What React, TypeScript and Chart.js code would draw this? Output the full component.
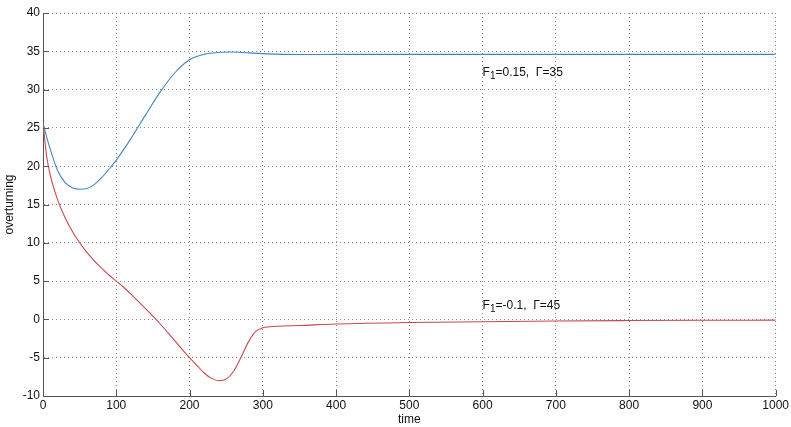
import React, { useEffect, useRef } from "react";
import { Chart, registerables } from "chart.js";

Chart.register(...registerables);

const timeA = [0, 5, 10, 20, 30, 40, 50, 60, 70, 80, 90, 100, 120, 140, 160, 180, 200, 220, 240, 260, 280, 300, 350, 400, 500, 600, 700, 800, 900, 1000];
const upper = [25.7, 23.8, 22.2, 19.4, 17.9, 17.2, 17.0, 17.1, 17.6, 18.5, 19.6, 20.8, 23.6, 26.7, 29.7, 32.2, 33.9, 34.6, 34.85, 34.9, 34.8, 34.7, 34.58, 34.6, 34.6, 34.6, 34.6, 34.6, 34.6, 34.6];

const timeB = [0, 5, 10, 20, 30, 40, 50, 60, 70, 80, 90, 100, 110, 120, 140, 160, 180, 200, 210, 220, 230, 240, 250, 260, 270, 280, 290, 300, 320, 350, 400, 500, 600, 700, 800, 900, 1000];
const lower = [25.7, 21.3, 18.8, 15.6, 13.3, 11.5, 10.0, 8.75, 7.65, 6.7, 5.8, 5.0, 4.2, 3.3, 1.4, -0.6, -2.8, -5.0, -6.0, -7.0, -7.7, -8.0, -7.8, -6.8, -5.0, -3.0, -1.6, -1.1, -0.9, -0.8, -0.6, -0.4, -0.3, -0.2, -0.15, -0.12, -0.1];

const labels = [
  { sub: "1", pre: "F", post: "=0.15,  \u0393=35", x: 600, y: 32.2 },
  { sub: "1", pre: "F", post: "=-0.1,  \u0393=45", x: 600, y: 1.8 },
];

const FONT = "'Liberation Sans', Arial, Helvetica, sans-serif";

const annotate = {
  id: "annotate",
  afterDatasetsDraw(chart: any) {
    const { ctx, scales } = chart;
    ctx.save();
    ctx.fillStyle = "#111";
    ctx.textBaseline = "middle";
    ctx.textAlign = "left";
    for (const l of labels) {
      let px = scales.x.getPixelForValue(l.x);
      const py = scales.y.getPixelForValue(l.y);
      ctx.font = `12px ${FONT}`;
      ctx.fillText(l.pre, px, py);
      px += ctx.measureText(l.pre).width;
      ctx.font = `10px ${FONT}`;
      ctx.fillText(l.sub, px, py + 4);
      px += ctx.measureText(l.sub).width;
      ctx.font = `12px ${FONT}`;
      ctx.fillText(l.post, px, py);
    }
    ctx.restore();
  },
};

const innerTicks = {
  id: "innerTicks",
  afterDraw(chart: any) {
    const { ctx, scales, chartArea } = chart;
    ctx.save();
    ctx.strokeStyle = "#555";
    ctx.lineWidth = 1;
    ctx.setLineDash([]);
    ctx.beginPath();
    for (const t of scales.x.ticks) {
      const x = Math.round(scales.x.getPixelForValue(t.value)) + 0.5;
      ctx.moveTo(x, chartArea.bottom);
      ctx.lineTo(x, chartArea.bottom - 6);
    }
    for (const t of scales.y.ticks) {
      const y = Math.round(scales.y.getPixelForValue(t.value)) + 0.5;
      ctx.moveTo(chartArea.left, y);
      ctx.lineTo(chartArea.left + 6, y);
    }
    ctx.stroke();
    ctx.restore();
  },
};

export default function App() {
  const ref = useRef<HTMLCanvasElement>(null);
  useEffect(() => {
    if (!ref.current) return;
    const chart = new Chart(ref.current, {
      type: "line",
      data: {
        datasets: [
          {
            data: timeA.map((t, i) => ({ x: t, y: upper[i] })),
            borderColor: "#3f86c4",
            borderWidth: 1.1,
            pointRadius: 0,
            cubicInterpolationMode: "monotone",
          },
          {
            data: timeB.map((t, i) => ({ x: t, y: lower[i] })),
            borderColor: "#c8474b",
            borderWidth: 1.1,
            pointRadius: 0,
            cubicInterpolationMode: "monotone",
          },
        ],
      },
      options: {
        animation: false,
        responsive: false,
        maintainAspectRatio: false,
        layout: { padding: { top: 13, right: 15, left: 0, bottom: 0 } },
        plugins: { legend: { display: false }, tooltip: { enabled: false } },
        scales: {
          x: {
            type: "linear",
            min: 0,
            max: 1000,
            afterFit(s: any) { s.height = 31; },
            ticks: { stepSize: 100, color: "#111", font: { family: FONT, size: 12 }, padding: 2, maxRotation: 0, callback: (v: any) => String(v) },
            grid: { color: "#8a8a8a", drawTicks: false, lineWidth: 1 },
            border: { display: true, color: "#555", width: 1, dash: [1, 3] },
            title: { display: true, text: "time", color: "#111", font: { family: FONT, size: 12 }, padding: { top: 0, bottom: 0 } },
          },
          y: {
            min: -10,
            max: 40,
            afterFit(s: any) { s.width = 43; },
            ticks: { stepSize: 5, color: "#111", font: { family: FONT, size: 12 }, padding: 3 },
            grid: { color: "#8a8a8a", drawTicks: false, lineWidth: 1 },
            border: { display: true, color: "#555", width: 1, dash: [1, 3] },
            title: { display: true, text: "overturning", color: "#111", font: { family: FONT, size: 12 }, padding: { top: 2, bottom: 0 } },
          },
        },
      },
      plugins: [annotate, innerTicks],
    } as any);
    return () => chart.destroy();
  }, []);
  return (
    <div style={{ position: "fixed", left: 0, top: 0, width: 791, height: 427, background: "#fff" }}>
      <canvas ref={ref} width={791} height={427} style={{ width: 791, height: 427 }} />
    </div>
  );
}
